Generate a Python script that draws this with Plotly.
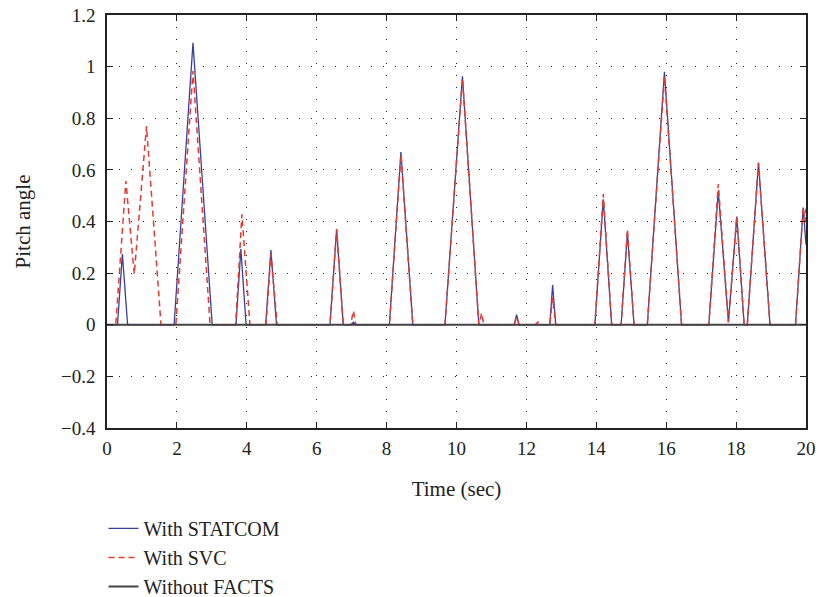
import plotly.graph_objects as go

# With STATCOM
t_statcom = [0, 0.3, 0.44, 0.59, 1.92, 2.46, 3.01, 3.69, 3.83, 3.98, 4.54, 4.69, 4.85,
             6.38, 6.57, 6.76, 6.98, 7.05, 7.12, 8.08, 8.41, 8.75, 9.67, 10.17, 10.64,
             11.65, 11.72, 11.79, 12.67, 12.75, 12.84, 13.96, 14.2, 14.44, 14.71, 14.89,
             15.08, 15.46, 15.95, 16.44, 17.22, 17.49, 17.78, 18.02, 18.23, 18.32, 18.64,
             18.97, 19.7, 19.92, 20.0]
v_statcom = [0, 0, 0.274, 0, 0, 1.092, 0, 0, 0.293, 0, 0, 0.289, 0,
             0, 0.37, 0, 0, 0.01, 0, 0, 0.669, 0, 0, 0.963, 0,
             0, 0.039, 0, 0, 0.154, 0, 0, 0.486, 0, 0, 0.355,
             0, 0, 0.98, 0, 0, 0.518, 0.01, 0.419, 0, 0, 0.628,
             0, 0, 0.454, 0.31]

# With SVC
t_svc = [0, 0.25, 0.54, 0.78, 1.13, 1.545, 1.97, 2.46, 2.95, 3.68, 3.86, 4.09, 4.55, 4.69,
         4.87, 6.38, 6.57, 6.76, 6.97, 7.05, 7.12, 8.08, 8.41, 8.75, 9.67, 10.17, 10.64,
         10.72, 10.78, 11.65, 11.72, 11.79, 12.25, 12.33, 12.4, 12.67, 12.75, 12.84, 13.96,
         14.2, 14.44, 14.71, 14.89, 15.08, 15.46, 15.95, 16.44, 17.22, 17.49, 17.78, 18.02,
         18.23, 18.32, 18.64, 18.97, 19.7, 19.92, 19.97, 20.0]
v_svc = [0, 0, 0.557, 0.196, 0.77, 0, 0, 0.983, 0, 0, 0.428, 0, 0, 0.275,
         0, 0, 0.37, 0, 0, 0.054, 0, 0, 0.66, 0, 0, 0.955, 0,
         0.045, 0, 0, 0.03, 0, 0, 0.01, 0, 0, 0.105, 0, 0,
         0.506, 0, 0, 0.37, 0, 0, 0.963, 0, 0, 0.545, 0.01, 0.42,
         0, 0, 0.625, 0, 0, 0.455, 0.4, 0.45]

# Without FACTS
t_none = [0, 20]
v_none = [0, 0]

x_ticks = list(range(0, 21, 2))
y_ticks = [-0.4, -0.2, 0, 0.2, 0.4, 0.6, 0.8, 1.0, 1.2]

FONT = "Liberation Serif"
TXT = "#222222"

fig = go.Figure()
fig.add_trace(go.Scatter(x=t_statcom, y=v_statcom, mode="lines", name="With STATCOM",
                         legendgroup="a", line=dict(color="#3a3f9e", width=1.3)))
fig.add_trace(go.Scatter(x=t_svc, y=v_svc, mode="lines", name="With SVC",
                         legendgroup="b", line=dict(color="#e8392e", width=1.5, dash="6px,4px")))
fig.add_trace(go.Scatter(x=t_none, y=v_none, mode="lines", name="Without FACTS",
                         legendgroup="c", line=dict(color="#444444", width=2)))

axis_common = dict(
    showline=True, linecolor=TXT, linewidth=1.5, mirror="allticks",
    ticks="inside", ticklen=6, tickcolor=TXT, tickwidth=1.2,
    showgrid=True, gridcolor=TXT, gridwidth=1, griddash="1px,11px",
    zeroline=False, automargin=False,
    tickfont=dict(family=FONT, size=19, color=TXT),
)

fig.update_xaxes(range=[0, 20], tickvals=x_ticks, ticklabelstandoff=2,
                 title=dict(text="Time (sec)", font=dict(family=FONT, size=21, color=TXT), standoff=24),
                 **axis_common)
fig.update_yaxes(range=[-0.4, 1.2], tickvals=y_ticks, ticklabelstandoff=6,
                 title=dict(text="Pitch angle", font=dict(family=FONT, size=21, color=TXT), standoff=25),
                 **axis_common)

fig.update_layout(
    width=819, height=597,
    margin=dict(l=107, r=13, t=15, b=169, autoexpand=False),
    plot_bgcolor="white", paper_bgcolor="white",
    font=dict(family=FONT, size=21, color=TXT),
    legend=dict(x=-0.005, y=-0.196, xanchor="left", yanchor="top",
                font=dict(family=FONT, size=20, color=TXT),
                tracegroupgap=0, bgcolor="rgba(0,0,0,0)"),
    showlegend=True,
)

fig.write_html("out.html", config={"displayModeBar": False},
               post_script="document.body.style.margin='0';")
